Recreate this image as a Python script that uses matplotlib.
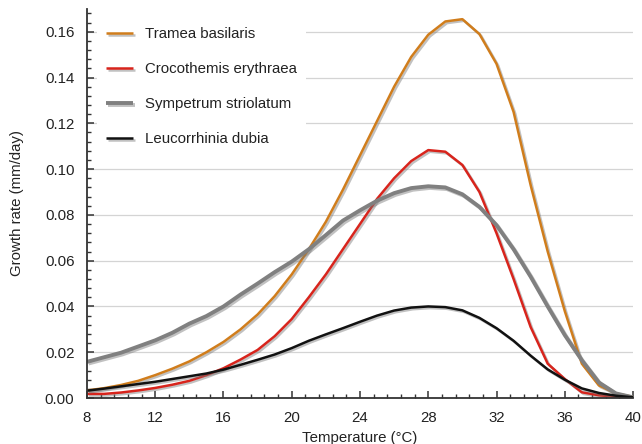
import matplotlib
matplotlib.use("Agg")
import matplotlib.pyplot as plt
import matplotlib.patheffects as pe
from matplotlib.ticker import MultipleLocator, AutoMinorLocator, FormatStrFormatter

temperature = list(range(8, 41))

tramea = [0.0033, 0.0043, 0.0057, 0.0075, 0.0100, 0.0128, 0.0160, 0.0200, 0.0245, 0.0300,
          0.0365, 0.0445, 0.0540, 0.0650, 0.0770, 0.0910, 0.1060, 0.1210, 0.1360, 0.1490,
          0.1587, 0.1645, 0.1655, 0.1590, 0.1460, 0.1250, 0.0930, 0.0640, 0.0380, 0.0150,
          0.0055, 0.0020, 0.0005]
crocothemis = [0.0018, 0.0018, 0.0024, 0.0033, 0.0044, 0.0058, 0.0075, 0.0100, 0.0130, 0.0168,
               0.0210, 0.0270, 0.0345, 0.0440, 0.0540, 0.0650, 0.0760, 0.0870, 0.0960, 0.1035,
               0.1083, 0.1076, 0.1018, 0.0900, 0.0720, 0.0520, 0.0310, 0.0150, 0.0083, 0.0025,
               0.0012, 0.0006, 0.0002]
sympetrum = [0.0158, 0.0178, 0.0198, 0.0225, 0.0252, 0.0285, 0.0325, 0.0358, 0.0400, 0.0452,
             0.0500, 0.0550, 0.0596, 0.0650, 0.0712, 0.0775, 0.0820, 0.0862, 0.0895, 0.0917,
             0.0925, 0.0920, 0.0890, 0.0835, 0.0755, 0.0650, 0.0530, 0.0400, 0.0275, 0.0165,
             0.0068, 0.0020, 0.0003]
leucorrhinia = [0.0032, 0.0041, 0.0051, 0.0061, 0.0071, 0.0083, 0.0095, 0.0107, 0.0124, 0.0145,
                0.0167, 0.0190, 0.0218, 0.0250, 0.0278, 0.0305, 0.0333, 0.0360, 0.0382, 0.0395,
                0.0400, 0.0397, 0.0383, 0.0350, 0.0305, 0.0250, 0.0185, 0.0125, 0.0080, 0.0042,
                0.0022, 0.0010, 0.0003]

series_names = ["Tramea basilaris", "Crocothemis erythraea", "Sympetrum striolatum", "Leucorrhinia dubia"]
series_values = [tramea, crocothemis, sympetrum, leucorrhinia]
colors = ["#d07d1c", "#d8241c", "#808080", "#111111"]
widths = [1.8, 1.8, 2.8, 1.8]

plt.rcParams['font.family'] = ['Liberation Sans', 'DejaVu Sans']

fig = plt.figure(figsize=(6.42, 4.44), dpi=100)
ax = fig.add_axes([0.1355, 0.1036, 0.8505, 0.8764])

shadow = [pe.SimpleLineShadow(offset=(1.2, -1.2), shadow_color='#777777', alpha=0.45), pe.Normal()]
for name, vals, c, w in zip(series_names, series_values, colors, widths):
    ax.plot(temperature, vals, color=c, lw=w, label=name, path_effects=shadow,
            solid_joinstyle='round', solid_capstyle='butt')

ax.set_xlim(8, 40)
ax.set_ylim(0, 0.17)
ax.xaxis.set_major_locator(MultipleLocator(4))
ax.xaxis.set_minor_locator(AutoMinorLocator(5))
ax.yaxis.set_major_locator(MultipleLocator(0.02))
ax.yaxis.set_minor_locator(AutoMinorLocator(5))
ax.yaxis.set_major_formatter(FormatStrFormatter('%.2f'))

ax.grid(axis='y', which='major', color='#d4d4d4', lw=0.9)
ax.set_axisbelow(True)
for s in ['top', 'right']:
    ax.spines[s].set_visible(False)
for s in ['left', 'bottom']:
    ax.spines[s].set_color('#333333')
    ax.spines[s].set_linewidth(1.3)

ax.tick_params(which='major', direction='in', length=5, width=1.1, color='#333333',
               labelsize=10.8, labelcolor='#222222', pad=9)
ax.tick_params(which='minor', direction='in', length=3, width=1.0, color='#333333')

ax.set_xlabel("Temperature (°C)", fontsize=10.8, color='#222222', labelpad=5)
ax.set_ylabel("Growth rate (mm/day)", fontsize=10.8, color='#222222', labelpad=15)

leg = ax.legend(loc='upper left', bbox_to_anchor=(0.005, 0.995), frameon=True, fontsize=10.8,
                handlelength=1.8, handletextpad=0.8, labelspacing=1.4, borderpad=0.6)
leg.get_frame().set_facecolor('white')
leg.get_frame().set_edgecolor('none')
leg.get_frame().set_alpha(1)
for t in leg.get_texts():
    t.set_color('#222222')

fig.savefig("out.png", dpi=100)
